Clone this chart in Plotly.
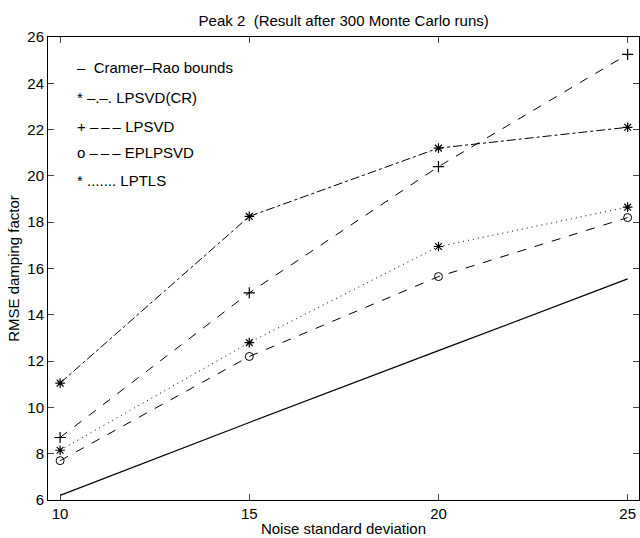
import plotly.graph_objects as go

noise_sd = [10, 15, 20, 25]
cramer_rao = [6.2, 9.35, 12.45, 15.55]
lpsvd_cr = [11.05, 18.25, 21.2, 22.1]
lpsvd = [8.7, 14.95, 20.4, 25.25]
eplpsvd = [7.7, 12.2, 15.65, 18.2]
lptls = [8.15, 12.8, 16.95, 18.65]

x_ticks = [10, 15, 20, 25]
y_ticks = [6, 8, 10, 12, 14, 16, 18, 20, 22, 24, 26]

legend_lines = [
    "–  Cramer–Rao bounds",
    "* –.–. LPSVD(CR)",
    "+ –\u2009–\u2009– LPSVD",
    "o –\u2009–\u2009– EPLPSVD",
    "* ....... LPTLS",
]

FONT = "Liberation Sans, Arial, sans-serif"
FS = 15
fig = go.Figure()

fig.add_trace(go.Scatter(x=noise_sd, y=cramer_rao, mode="lines",
                         line=dict(color="black", width=1.2), showlegend=False))
fig.add_trace(go.Scatter(x=noise_sd, y=lpsvd_cr, mode="lines+markers",
                         line=dict(color="black", width=1, dash="dashdot"),
                         marker=dict(symbol="asterisk-open", size=8, color="black",
                                     line=dict(color="black", width=1.2)),
                         showlegend=False))
fig.add_trace(go.Scatter(x=noise_sd, y=lpsvd, mode="lines+markers",
                         line=dict(color="black", width=1, dash="dash"),
                         marker=dict(symbol="cross-thin-open", size=8, color="black",
                                     line=dict(color="black", width=1.2)),
                         showlegend=False))
fig.add_trace(go.Scatter(x=noise_sd, y=eplpsvd, mode="lines+markers",
                         line=dict(color="black", width=1, dash="dash"),
                         marker=dict(symbol="circle-open", size=8, color="black",
                                     line=dict(color="black", width=1)),
                         showlegend=False))
fig.add_trace(go.Scatter(x=noise_sd, y=lptls, mode="lines+markers",
                         line=dict(color="black", width=1, dash="1px,4px"),
                         marker=dict(symbol="asterisk-open", size=8, color="black",
                                     line=dict(color="black", width=1.2)),
                         showlegend=False))

legend_y = [24.7, 23.4, 22.15, 21.0, 19.8]
for txt, yy in zip(legend_lines, legend_y):
    fig.add_annotation(x=0.045, xref="paper", y=yy, yref="y", text=txt,
                       showarrow=False, xanchor="left", yanchor="middle",
                       font=dict(family=FONT, size=FS, color="black"))

fig.update_layout(
    width=640, height=538,
    margin=dict(l=48, r=1, t=37, b=38),
    paper_bgcolor="white", plot_bgcolor="white",
    font=dict(family=FONT, size=FS, color="black"),
    title=dict(text="Peak 2  (Result after 300 Monte Carlo runs)",
               x=0.537, xanchor="center", y=0.962, yanchor="middle",
               font=dict(family=FONT, size=FS, color="black")),
)
fig.update_xaxes(range=[9.68, 25.3], tickvals=x_ticks, ticks="inside", ticklen=6,
                 showline=True, linecolor="black", linewidth=1, mirror="ticks",
                 showgrid=False, zeroline=False,
                 title=dict(text="Noise standard deviation", standoff=2,
                            font=dict(family=FONT, size=FS)),
                 tickfont=dict(family=FONT, size=FS))
fig.update_yaxes(range=[6, 26], tickvals=y_ticks, ticks="inside", ticklen=6,
                 showline=True, linecolor="black", linewidth=1, mirror="ticks",
                 showgrid=False, zeroline=False,
                 title=dict(text="RMSE damping factor", standoff=4,
                            font=dict(family=FONT, size=FS)),
                 tickfont=dict(family=FONT, size=FS))

fig.write_html("out.html")
